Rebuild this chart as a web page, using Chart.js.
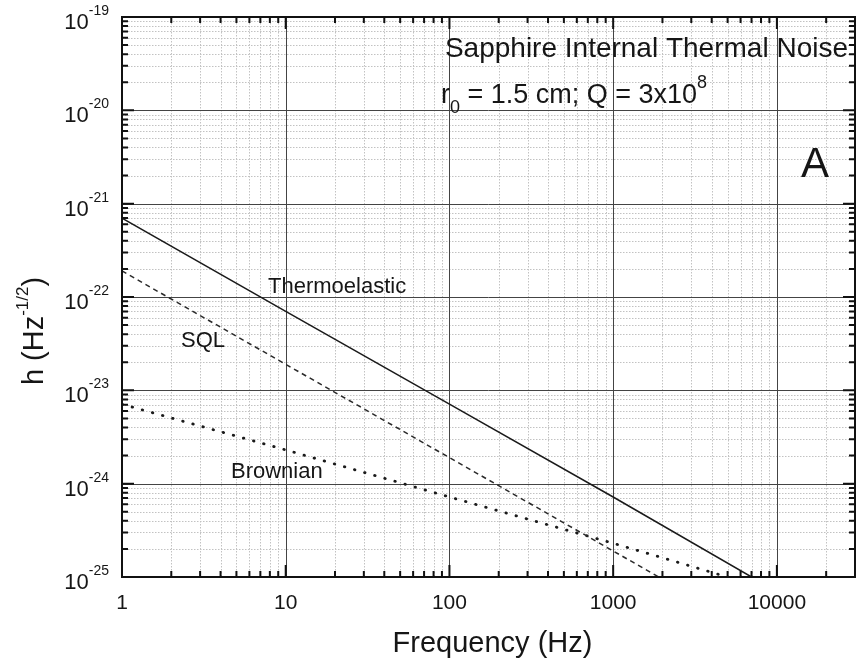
<!DOCTYPE html>
<html>
<head>
<meta charset="utf-8">
<script src="https://cdn.jsdelivr.net/npm/chart.js@4.4.1/dist/chart.umd.min.js"></script>
<style>
  html, body { margin: 0; padding: 0; background: #fff; }
  #wrap { width: 865px; height: 661px; }
</style>
</head>
<body>
<div id="wrap"><canvas id="chart" width="865" height="661"></canvas></div>
<script>
var FONT = '"Liberation Sans", Arial, Helvetica, sans-serif';

// frequency (Hz) and strain noise h (Hz^-1/2)
var teFreq = [1, 10, 100, 1000, 7000];
var teNoise = [7.0e-22, 7.0e-23, 7.1e-24, 7.2e-25, 1.0e-25];
var sqlFreq = [1, 10, 100, 1000, 1900];
var sqlNoise = [1.9e-22, 1.9e-23, 1.9e-24, 1.9e-25, 1.0e-25];
var brFreq = [1, 10, 100, 1000, 5000];
var brNoise = [7.1e-24, 2.3e-24, 7.2e-25, 2.3e-25, 1.0e-25];

// axis ranges and labelled ticks
var xMin = 1, xMax = 30000;
var yMin = 1e-25, yMax = 1e-19;
var xTickValues = [1, 10, 100, 1000, 10000];
var xTickLabels = ["1", "10", "100", "1000", "10000"];
var yTickExps = [-19, -20, -21, -22, -23, -24, -25];

function pts(xs, ys) {
  return xs.map(function (x, i) { return { x: x, y: ys[i] }; });
}

// 1..9 x 10^n inside [min, max]
function logTicks(min, max) {
  var out = [];
  var e0 = Math.floor(Math.log10(min)), e1 = Math.ceil(Math.log10(max));
  for (var e = e0; e <= e1; e++) {
    for (var m = 1; m < 10; m++) {
      var v = m * Math.pow(10, e);
      if (v >= min * 0.999 && v <= max * 1.001) out.push({ v: v, major: m === 1 });
    }
  }
  return out;
}

function supText(ctx, parts, x, y) {
  // parts: [text, font, dy]; drawn left to right from x
  parts.forEach(function (p) {
    ctx.font = p[1];
    ctx.fillText(p[0], x, y + p[2]);
    x += ctx.measureText(p[0]).width;
  });
  return x;
}

function partsWidth(ctx, parts) {
  var w = 0;
  parts.forEach(function (p) { ctx.font = p[1]; w += ctx.measureText(p[0]).width; });
  return w;
}

var gridPlugin = {
  id: "logGrid",
  beforeDatasetsDraw: function (chart) {
    var ctx = chart.ctx, a = chart.chartArea;
    var sx = chart.scales.x, sy = chart.scales.y;
    var xt = logTicks(xMin, xMax), yt = logTicks(yMin, yMax);
    ctx.save();
    ctx.lineWidth = 1;
    // minor dotted
    ctx.setLineDash([1.5, 1.5]);
    ctx.strokeStyle = "#c2c2c2";
    xt.forEach(function (t) {
      if (t.major) return;
      var px = Math.round(sx.getPixelForValue(t.v)) + 0.5;
      ctx.beginPath(); ctx.moveTo(px, a.top); ctx.lineTo(px, a.bottom); ctx.stroke();
    });
    yt.forEach(function (t) {
      if (t.major) return;
      var py = Math.round(sy.getPixelForValue(t.v)) + 0.5;
      ctx.beginPath(); ctx.moveTo(a.left, py); ctx.lineTo(a.right, py); ctx.stroke();
    });
    // major solid
    ctx.setLineDash([]);
    ctx.strokeStyle = "#444";
    xt.forEach(function (t) {
      if (!t.major) return;
      var px = Math.round(sx.getPixelForValue(t.v)) + 0.5;
      ctx.beginPath(); ctx.moveTo(px, a.top); ctx.lineTo(px, a.bottom); ctx.stroke();
    });
    yt.forEach(function (t) {
      if (!t.major) return;
      var py = Math.round(sy.getPixelForValue(t.v)) + 0.5;
      ctx.beginPath(); ctx.moveTo(a.left, py); ctx.lineTo(a.right, py); ctx.stroke();
    });
    ctx.restore();
  },
  afterDatasetsDraw: function (chart) {
    var ctx = chart.ctx, a = chart.chartArea;
    var sx = chart.scales.x, sy = chart.scales.y;
    ctx.save();
    ctx.strokeStyle = "#111";
    ctx.fillStyle = "#161616";

    // frame
    ctx.lineWidth = 2;
    ctx.strokeRect(a.left, a.top, a.right - a.left, a.bottom - a.top);

    // inward ticks on all four sides
    logTicks(xMin, xMax).forEach(function (t) {
      var px = sx.getPixelForValue(t.v), len = t.major ? 12 : 6;
      ctx.beginPath();
      ctx.moveTo(px, a.bottom); ctx.lineTo(px, a.bottom - len);
      ctx.moveTo(px, a.top); ctx.lineTo(px, a.top + len);
      ctx.stroke();
    });
    logTicks(yMin, yMax).forEach(function (t) {
      var py = sy.getPixelForValue(t.v), len = t.major ? 12 : 6;
      ctx.beginPath();
      ctx.moveTo(a.left, py); ctx.lineTo(a.left + len, py);
      ctx.moveTo(a.right, py); ctx.lineTo(a.right - len, py);
      ctx.stroke();
    });

    // x tick labels
    ctx.font = "21px " + FONT;
    ctx.textAlign = "center";
    ctx.textBaseline = "middle";
    xTickValues.forEach(function (v, i) {
      ctx.fillText(xTickLabels[i], sx.getPixelForValue(v), a.bottom + 26);
    });

    // y tick labels 10^n
    ctx.textAlign = "left";
    ctx.textBaseline = "alphabetic";
    yTickExps.forEach(function (e) {
      var py = sy.getPixelForValue(Math.pow(10, e));
      var parts = [["10", "22px " + FONT, 0], [String(e), "14px " + FONT, -14]];
      var w = partsWidth(ctx, parts);
      supText(ctx, parts, a.left - 13 - w, py + 12);
    });

    // axis titles
    ctx.font = "29px " + FONT;
    ctx.textAlign = "center";
    ctx.fillText("Frequency (Hz)", (a.left + a.right) / 2 + 4, 652);

    ctx.save();
    ctx.translate(43, 331);
    ctx.rotate(-Math.PI / 2);
    ctx.textAlign = "left";
    var yt = [["h (Hz", "29px " + FONT, 0], ["-1/2", "17px " + FONT, -15], [")", "29px " + FONT, 0]];
    supText(ctx, yt, -partsWidth(ctx, yt) / 2, 0);
    ctx.restore();

    // annotations
    ctx.textAlign = "left";
    ctx.font = "28px " + FONT;
    var t1 = "Sapphire Internal Thermal Noise";
    ctx.fillText(t1, 848 - ctx.measureText(t1).width, 57);
    supText(ctx, [
      ["r", "27px " + FONT, 0],
      ["0", "18px " + FONT, 10],
      [" = 1.5 cm; Q = 3x10", "27px " + FONT, 0],
      ["8", "18px " + FONT, -15]
    ], 441, 103);

    ctx.font = "42px " + FONT;
    ctx.fillText("A", 801, 177);

    ctx.font = "22px " + FONT;
    ctx.fillText("Thermoelastic", 268, 293);
    ctx.fillText("SQL", 181, 347);
    ctx.fillText("Brownian", 231, 478);

    ctx.restore();
  }
};

var chart = new Chart(document.getElementById("chart"), {
  type: "scatter",
  data: {
    datasets: [
      {
        label: "Thermoelastic",
        data: pts(teFreq, teNoise),
        showLine: true,
        borderColor: "#1a1a1a",
        borderWidth: 1.5,
        pointRadius: 0,
        clip: 0
      },
      {
        label: "SQL",
        data: pts(sqlFreq, sqlNoise),
        showLine: true,
        borderColor: "#2a2a2a",
        borderWidth: 1.5,
        borderDash: [5, 4],
        pointRadius: 0,
        clip: 0
      },
      {
        label: "Brownian",
        data: pts(brFreq, brNoise),
        showLine: true,
        borderColor: "#1a1a1a",
        borderWidth: 2.8,
        borderDash: [0.5, 10],
        borderCapStyle: "round",
        pointRadius: 0,
        clip: 0
      }
    ]
  },
  options: {
    responsive: false,
    animation: false,
    events: [],
    layout: { padding: { left: 122, top: 17, right: 10, bottom: 84 } },
    plugins: { legend: { display: false }, tooltip: { enabled: false } },
    scales: {
      x: { type: "logarithmic", min: xMin, max: xMax, display: false },
      y: { type: "logarithmic", min: yMin, max: yMax, display: false }
    }
  },
  plugins: [gridPlugin]
});
</script>
</body>
</html>
